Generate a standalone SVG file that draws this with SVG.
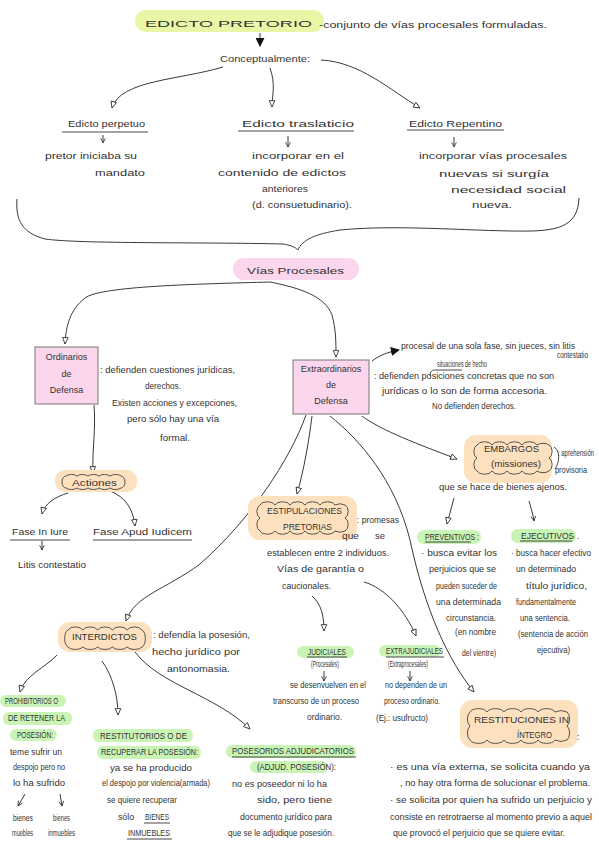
<svg xmlns="http://www.w3.org/2000/svg" width="599" height="848" viewBox="0 0 599 848">
<defs>
<style>
.t{font-family:"Liberation Sans",Arial,sans-serif;fill:#333;font-size:9px}
.m{text-anchor:middle}
.c{fill:none;stroke:#3a3a3a;stroke-width:1}
.ul{fill:none;stroke:#333;stroke-width:0.9}
.cl{fill:none;stroke:#444;stroke-width:0.9}
.g{fill:#c9f4b6}
.o{fill:#fde0bd}
.p{fill:#fbd6ec}
</style>
<marker id="open" viewBox="0 0 10 10" refX="9" refY="5" markerWidth="8" markerHeight="8" orient="auto" markerUnits="userSpaceOnUse"><path d="M1,1.5 L9,5 L1,8.5 Z" fill="#fff" stroke="#333" stroke-width="1.1"/></marker>
<marker id="solid" viewBox="0 0 10 10" refX="9" refY="5" markerWidth="9" markerHeight="9" orient="auto" markerUnits="userSpaceOnUse"><path d="M0,0 L10,5 L0,10 Z" fill="#111"/></marker>
<marker id="vee" viewBox="0 0 10 10" refX="9" refY="5" markerWidth="6" markerHeight="6" orient="auto" markerUnits="userSpaceOnUse"><path d="M1,1 L9,5 L1,9" fill="none" stroke="#333" stroke-width="1.4"/></marker>
</defs>
<rect width="599" height="848" fill="#fff"/>

<g id="connectors">
<path class="c" d="M260,33 L260,46" marker-end="url(#solid)"/>
<path class="c" d="M223,67 C180,80 120,80 112,108" marker-end="url(#open)"/>
<path class="c" d="M270,68 C276,85 272,95 272,107" marker-end="url(#open)"/>
<path class="c" d="M321,60 C360,62 390,90 420,108" marker-end="url(#open)"/>
<path class="c" d="M103,135 L103,143" marker-end="url(#vee)"/>
<path class="c" d="M288,136 L288,147" marker-end="url(#vee)"/>
<path class="c" d="M454,137 L454,147" marker-end="url(#vee)"/>
<path class="c" d="M17,199 C16,215 18,232 45,239 C80,244 200,242 283,244 C290,245 295,247 298,250 C302,240 315,234 340,230 C400,224 480,232 532,231 C560,230 578,225 579,198"/>
<path class="c" d="M270,282 C200,284 100,286 85,298 C70,310 66,325 65,344" marker-end="url(#open)"/>
<path class="c" d="M270,282 C300,288 325,296 332,315 C336,330 336,342 336,357" marker-end="url(#open)"/>
<path class="c" d="M372,361 C380,355 388,352 399,350" marker-end="url(#solid)"/>
<path class="c" d="M94,405 C96,430 92,450 93,473" marker-end="url(#open)"/>
<path class="c" d="M68,493 C55,497 45,503 42,514" marker-end="url(#open)"/>
<path class="c" d="M110,491 C125,497 133,508 135,526" marker-end="url(#open)"/>
<path class="c" d="M42,541 L42,550" marker-end="url(#vee)"/>
<path class="c" d="M306,415 C290,460 250,520 200,564 C165,590 135,595 126,621" marker-end="url(#open)"/>
<path class="c" d="M312,416 C309,440 304,470 297,494" marker-end="url(#open)"/>
<path class="c" d="M330,416 C360,440 395,480 410,540 C425,610 448,660 474,692" marker-end="url(#open)"/>
<path class="c" d="M362,416 C380,430 420,445 457,459" marker-end="url(#open)"/>
<path class="c" d="M454,498 C452,507 449,515 447,524" marker-end="url(#open)"/>
<path class="c" d="M529,501 C531,508 533,514 534,521" marker-end="url(#vee)"/>
<path class="c" d="M312,596 C321,604 324,615 324,631" marker-end="url(#open)"/>
<path class="c" d="M364,582 C385,588 405,610 416,636" marker-end="url(#open)"/>
<path class="c" d="M324,671 L324,681" marker-end="url(#vee)"/>
<path class="c" d="M410,671 L410,681" marker-end="url(#vee)"/>
<path class="c" d="M57,655 C45,668 25,675 20,692" marker-end="url(#open)"/>
<path class="c" d="M102,661 C112,675 118,695 118,715" marker-end="url(#open)"/>
<path class="c" d="M135,652 C160,685 215,695 250,729" marker-end="url(#open)"/>
<path class="c" d="M25,794 L18,806" marker-end="url(#vee)"/>
<path class="c" d="M60,794 L62,806" marker-end="url(#vee)"/>
</g>

<g id="edicto-pretorio">
<rect x="135" y="10" width="189" height="22" rx="11" fill="#e9f6a6"/>
<text class="t" x="145" y="27" font-size="16" textLength="167" lengthAdjust="spacingAndGlyphs">EDICTO PRETORIO</text>
<text class="t" x="319" y="28" font-size="10" textLength="228" lengthAdjust="spacingAndGlyphs">-conjunto de vías procesales formuladas.</text>
</g>

<g id="conceptualmente">
<text class="t" x="220" y="62" font-size="11" textLength="90" lengthAdjust="spacingAndGlyphs">Conceptualmente:</text>
</g>

<g id="edicto-perpetuo">
<text class="t" x="68" y="127" font-size="10" textLength="77" lengthAdjust="spacingAndGlyphs">Edicto perpetuo</text>
<path class="ul" d="M62,132 L148,132"/>
<text class="t" x="45" y="159" font-size="10" textLength="92" lengthAdjust="spacingAndGlyphs">pretor iniciaba su</text>
<text class="t" x="95" y="176" font-size="10" textLength="50" lengthAdjust="spacingAndGlyphs">mandato</text>
</g>

<g id="edicto-traslaticio">
<text class="t" x="242" y="127" font-size="10" textLength="112" lengthAdjust="spacingAndGlyphs">Edicto traslaticio</text>
<path class="ul" d="M238,131 L354,131"/>
<text class="t" x="252" y="159" font-size="10" textLength="92" lengthAdjust="spacingAndGlyphs">incorporar en el</text>
<text class="t" x="218" y="176" font-size="10" textLength="128" lengthAdjust="spacingAndGlyphs">contenido de edictos</text>
<text class="t" x="262" y="192" font-size="9" textLength="46" lengthAdjust="spacingAndGlyphs">anteriores</text>
<text class="t" x="252" y="208" font-size="9.5" textLength="100" lengthAdjust="spacingAndGlyphs">(d. consuetudinario).</text>
</g>

<g id="edicto-repentino">
<text class="t" x="409" y="127" font-size="10" textLength="93" lengthAdjust="spacingAndGlyphs">Edicto Repentino</text>
<path class="ul" d="M407,130 L504,130"/>
<text class="t" x="419" y="159" font-size="10" textLength="148" lengthAdjust="spacingAndGlyphs">incorporar vías procesales</text>
<text class="t" x="439" y="177" font-size="10" textLength="110" lengthAdjust="spacingAndGlyphs">nuevas si surgía</text>
<text class="t" x="451" y="193" font-size="10" textLength="115" lengthAdjust="spacingAndGlyphs">necesidad social</text>
<text class="t" x="472" y="208" font-size="10" textLength="40" lengthAdjust="spacingAndGlyphs">nueva.</text>
</g>

<g id="vias-procesales">
<rect x="233" y="258" width="126" height="22" rx="11" class="p"/>
<text class="t" x="247" y="274" font-size="11" textLength="97" lengthAdjust="spacingAndGlyphs">Vías Procesales</text>
</g>

<g id="ordinarios">
<rect x="35" y="347" width="63" height="57" class="p" stroke="#777" stroke-width="1"/>
<text class="t m" x="66.5" y="360" font-size="8">Ordinarios</text>
<text class="t m" x="66.5" y="377" font-size="8">de</text>
<text class="t m" x="66.5" y="393" font-size="8">Defensa</text>
<text class="t" x="100" y="373" font-size="8.5" textLength="135" lengthAdjust="spacingAndGlyphs">: defienden cuestiones jurídicas,</text>
<text class="t" x="145" y="389" font-size="8.5" textLength="36" lengthAdjust="spacingAndGlyphs">derechos.</text>
<text class="t" x="112" y="406" font-size="8.5" textLength="125" lengthAdjust="spacingAndGlyphs">Existen acciones y excepciones,</text>
<text class="t" x="127" y="422" font-size="8.5" textLength="92" lengthAdjust="spacingAndGlyphs">pero sólo hay una vía</text>
<text class="t" x="160" y="441" font-size="8.5" textLength="30" lengthAdjust="spacingAndGlyphs">formal.</text>
</g>

<g id="extraordinarios">
<rect x="293" y="360" width="76" height="54" class="p" stroke="#777" stroke-width="1"/>
<text class="t m" x="331" y="372" font-size="8">Extraordinarios</text>
<text class="t m" x="331" y="388" font-size="8">de</text>
<text class="t m" x="331" y="404" font-size="8">Defensa</text>
<text class="t" x="401" y="349" font-size="6.5" textLength="174" lengthAdjust="spacingAndGlyphs">procesal de una sola fase, sin jueces, sin litis</text>
<text class="t" x="557" y="358" font-size="5.8" textLength="31" lengthAdjust="spacingAndGlyphs">contestatio</text>
<text class="t" x="437" y="367" font-size="5.3" textLength="50" lengthAdjust="spacingAndGlyphs">situaciones de hecho</text>
<path class="ul" d="M430,376 C430,371 432,370 436,370 L462,370"/>
<text class="t" x="374" y="379" font-size="8.5" textLength="180" lengthAdjust="spacingAndGlyphs">: defienden posiciones concretas que no son</text>
<text class="t" x="382" y="394" font-size="8.5" textLength="165" lengthAdjust="spacingAndGlyphs">jurídicas o lo son de forma accesoria.</text>
<text class="t" x="432" y="409" font-size="8" textLength="84" lengthAdjust="spacingAndGlyphs">No defienden derechos.</text>
</g>

<g id="actiones">
<rect x="55" y="470" width="82" height="22" rx="10" class="o"/>
<path class="cl" d="M66,476 a7,4 0 0 1 11,0 a7,4 0 0 1 11,0 a7,4 0 0 1 11,0 a7,4 0 0 1 11,0 a7,4 0 0 1 11,0 a4,6 0 0 1 0,12 a7,4 0 0 1 -11,0 a7,4 0 0 1 -11,0 a7,4 0 0 1 -11,0 a7,4 0 0 1 -11,0 a7,4 0 0 1 -11,0 a4,6 0 0 1 0,-12 z"/>
<text class="t" x="72" y="486" font-size="9" textLength="45" lengthAdjust="spacingAndGlyphs">Actiones</text>
</g>

<g id="fase-in-iure">
<text class="t" x="12" y="535" font-size="10" textLength="56" lengthAdjust="spacingAndGlyphs">Fase In Iure</text>
<path class="ul" d="M10,540 L70,540"/>
<text class="t" x="18" y="568" font-size="8.5" textLength="68" lengthAdjust="spacingAndGlyphs">Litis contestatio</text>
</g>

<g id="fase-apud-iudicem">
<text class="t" x="93" y="535" font-size="10" textLength="99" lengthAdjust="spacingAndGlyphs">Fase Apud Iudicem</text>
<path class="ul" d="M93,540 L192,540"/>
</g>

<g id="embargos">
<rect x="464" y="435" width="88" height="48" rx="12" class="o"/>
<path class="cl" d="M477,445 a8,5 0 0 1 15,0 a8,5 0 0 1 15,0 a8,5 0 0 1 15,0 a8,5 0 0 1 15,0 a8,5 0 0 1 12,0 a5,7 0 0 1 0,13 a5,7 0 0 1 0,13 a8,5 0 0 1 -12,0 a8,5 0 0 1 -15,0 a8,5 0 0 1 -15,0 a8,5 0 0 1 -15,0 a8,5 0 0 1 -15,0 a5,7 0 0 1 0,-13 a5,7 0 0 1 0,-13 z"/>
<text class="t" x="484" y="452" font-size="8" textLength="55" lengthAdjust="spacingAndGlyphs">EMBARGOS</text>
<text class="t" x="491" y="467" font-size="8" textLength="50" lengthAdjust="spacingAndGlyphs">(missiones)</text>
<path class="ul" d="M554,447 C560,450 560,462 555,469"/>
<text class="t" x="558" y="456" font-size="4.8" textLength="36" lengthAdjust="spacingAndGlyphs">: aprehensión</text>
<text class="t" x="555" y="473" font-size="6.5" textLength="32" lengthAdjust="spacingAndGlyphs">provisoria</text>
<text class="t" x="439" y="490" font-size="9" textLength="128" lengthAdjust="spacingAndGlyphs">que se hace de bienes ajenos.</text>
</g>

<g id="preventivos">
<rect x="417" y="530" width="64" height="14" rx="7" class="g"/>
<text class="t" x="425" y="540" font-size="6" textLength="54" lengthAdjust="spacingAndGlyphs">PREVENTIVOS :</text>
<path class="ul" d="M425,542 L471,542"/>
<text class="t" x="421" y="556" font-size="8.3" textLength="76" lengthAdjust="spacingAndGlyphs">· busca evitar los</text>
<text class="t" x="429" y="572" font-size="8" textLength="67" lengthAdjust="spacingAndGlyphs">perjuicios que se</text>
<text class="t" x="436" y="589" font-size="7.5" textLength="61" lengthAdjust="spacingAndGlyphs">pueden suceder de</text>
<text class="t" x="436" y="605" font-size="8" textLength="65" lengthAdjust="spacingAndGlyphs">una determinada</text>
<text class="t" x="446" y="621" font-size="7.5" textLength="50" lengthAdjust="spacingAndGlyphs">circunstancia.</text>
<text class="t" x="455" y="635" font-size="7.5" textLength="41" lengthAdjust="spacingAndGlyphs">(en nombre</text>
<text class="t" x="462" y="656" font-size="6.3" textLength="34" lengthAdjust="spacingAndGlyphs">del vientre)</text>
</g>

<g id="ejecutivos">
<rect x="511" y="529" width="65" height="14" rx="7" class="g"/>
<text class="t" x="521" y="539" font-size="6.5" textLength="58" lengthAdjust="spacingAndGlyphs">EJECUTIVOS .</text>
<path class="ul" d="M520,541 L572,541"/>
<text class="t" x="511" y="556" font-size="6" textLength="80" lengthAdjust="spacingAndGlyphs">· busca hacer efectivo</text>
<text class="t" x="516" y="572" font-size="8" textLength="60" lengthAdjust="spacingAndGlyphs">un determinado</text>
<text class="t" x="526" y="589" font-size="7.8" textLength="61" lengthAdjust="spacingAndGlyphs">título jurídico,</text>
<text class="t" x="516" y="605" font-size="7.8" textLength="60" lengthAdjust="spacingAndGlyphs">fundamentalmente</text>
<text class="t" x="520" y="621" font-size="7.5" textLength="50" lengthAdjust="spacingAndGlyphs">una sentencia.</text>
<text class="t" x="518" y="637" font-size="6.5" textLength="70" lengthAdjust="spacingAndGlyphs">(sentencia de acción</text>
<text class="t" x="537" y="653" font-size="7" textLength="33" lengthAdjust="spacingAndGlyphs">ejecutiva)</text>
</g>

<g id="estipulaciones">
<rect x="248" y="496" width="109" height="44" rx="12" class="o"/>
<path class="cl" d="M260,505 a8,5 0 0 1 15,0 a8,5 0 0 1 15,0 a8,5 0 0 1 15,0 a8,5 0 0 1 15,0 a8,5 0 0 1 15,0 a8,5 0 0 1 10,0 a5,7 0 0 1 0,13 a5,7 0 0 1 0,13 a8,5 0 0 1 -10,0 a8,5 0 0 1 -15,0 a8,5 0 0 1 -15,0 a8,5 0 0 1 -15,0 a8,5 0 0 1 -15,0 a8,5 0 0 1 -15,0 a5,7 0 0 1 0,-13 a5,7 0 0 1 0,-13 z"/>
<text class="t" x="267" y="514" font-size="7.8" textLength="75" lengthAdjust="spacingAndGlyphs">ESTIPULACIONES</text>
<text class="t" x="283" y="530" font-size="7.8" textLength="49" lengthAdjust="spacingAndGlyphs">PRETORIAS</text>
<text class="t" x="357" y="523" font-size="9" textLength="42" lengthAdjust="spacingAndGlyphs">: promesas</text>
<text class="t" x="342" y="539" font-size="9" textLength="17" lengthAdjust="spacingAndGlyphs">que</text>
<text class="t" x="375" y="539" font-size="9" textLength="10" lengthAdjust="spacingAndGlyphs">se</text>
<text class="t" x="267" y="556" font-size="8.5" textLength="122" lengthAdjust="spacingAndGlyphs">establecen entre 2 individuos.</text>
<text class="t" x="277" y="572" font-size="9" textLength="87" lengthAdjust="spacingAndGlyphs">Vías de garantía o</text>
<text class="t" x="282" y="589" font-size="8.5" textLength="49" lengthAdjust="spacingAndGlyphs">caucionales.</text>
</g>

<g id="judiciales">
<rect x="297" y="646" width="57" height="12" rx="6" class="g"/>
<text class="t" x="308" y="655" font-size="5.5" textLength="38" lengthAdjust="spacingAndGlyphs">JUDICIALES</text>
<path class="ul" d="M307,657 L347,657"/>
<text class="t" x="311" y="667" font-size="5" textLength="28" lengthAdjust="spacingAndGlyphs">(Procesales)</text>
<text class="t" x="290" y="688" font-size="7.5" textLength="76" lengthAdjust="spacingAndGlyphs">se desenvuelven en el</text>
<text class="t" x="273" y="704" font-size="7.5" textLength="86" lengthAdjust="spacingAndGlyphs">transcurso de un proceso</text>
<text class="t" x="307" y="720" font-size="7.5" textLength="35" lengthAdjust="spacingAndGlyphs">ordinario.</text>
</g>

<g id="extrajudiciales">
<rect x="379" y="645" width="62" height="12" rx="6" class="g"/>
<text class="t" x="386" y="654" font-size="5.5" textLength="57" lengthAdjust="spacingAndGlyphs">EXTRAJUDICIALES</text>
<path class="ul" d="M386,657 L444,657"/>
<text class="t" x="388" y="667" font-size="5" textLength="40" lengthAdjust="spacingAndGlyphs">(Extraprocesales)</text>
<text class="t" x="385" y="688" font-size="7.5" textLength="62" lengthAdjust="spacingAndGlyphs">no dependen de un</text>
<text class="t" x="384" y="704" font-size="6.5" textLength="56" lengthAdjust="spacingAndGlyphs">proceso ordinario.</text>
<text class="t" x="376" y="721" font-size="6.5" textLength="52" lengthAdjust="spacingAndGlyphs">(Ej.: usufructo)</text>
</g>

<g id="interdictos">
<rect x="58" y="622" width="94" height="30" rx="12" class="o"/>
<path class="cl" d="M68,630 a8,5 0 0 1 14.8,0 a8,5 0 0 1 14.8,0 a8,5 0 0 1 14.8,0 a8,5 0 0 1 14.8,0 a8,5 0 0 1 14.8,0 a5,9 0 0 1 0,17 a8,4 0 0 1 -14.8,0 a8,4 0 0 1 -14.8,0 a8,4 0 0 1 -14.8,0 a8,4 0 0 1 -14.8,0 a8,4 0 0 1 -14.8,0 a5,9 0 0 1 0,-17 z"/>
<text class="t" x="72" y="640" font-size="8.5" textLength="65" lengthAdjust="spacingAndGlyphs">INTERDICTOS</text>
<text class="t" x="153" y="638" font-size="9" textLength="97" lengthAdjust="spacingAndGlyphs">: defendía la posesión,</text>
<text class="t" x="152" y="655" font-size="9.5" textLength="88" lengthAdjust="spacingAndGlyphs">hecho jurídico por</text>
<text class="t" x="167" y="672" font-size="9.5" textLength="63" lengthAdjust="spacingAndGlyphs">antonomasia.</text>
</g>

<g id="prohibitorios">
<rect x="0" y="695" width="66" height="12" rx="6" class="g"/>
<text class="t" x="5" y="704" font-size="5" textLength="53" lengthAdjust="spacingAndGlyphs">PROHIBITORIOS O</text>
<rect x="3" y="712" width="69" height="13" rx="6" class="g"/>
<text class="t" x="8" y="721" font-size="6.2" textLength="57" lengthAdjust="spacingAndGlyphs">DE RETENER LA</text>
<rect x="10" y="729" width="47" height="12" rx="6" class="g"/>
<text class="t" x="17" y="738" font-size="5.8" textLength="36" lengthAdjust="spacingAndGlyphs">POSESIÓN:</text>
<text class="t" x="10" y="755" font-size="7.8" textLength="52" lengthAdjust="spacingAndGlyphs">teme sufrir un</text>
<text class="t" x="13" y="770" font-size="7.3" textLength="52" lengthAdjust="spacingAndGlyphs">despojo pero no</text>
<text class="t" x="13" y="786" font-size="7.8" textLength="52" lengthAdjust="spacingAndGlyphs">lo ha sufrido</text>
<text class="t" x="13" y="821" font-size="6.5" textLength="20" lengthAdjust="spacingAndGlyphs">bienes</text>
<text class="t" x="53" y="821" font-size="6" textLength="17" lengthAdjust="spacingAndGlyphs">bienes</text>
<text class="t" x="12" y="836" font-size="6" textLength="21" lengthAdjust="spacingAndGlyphs">muebles</text>
<text class="t" x="48" y="836" font-size="6.2" textLength="27" lengthAdjust="spacingAndGlyphs">inmuebles</text>
</g>

<g id="restitutorios">
<rect x="93" y="729" width="100" height="13" rx="6" class="g"/>
<text class="t" x="100" y="739" font-size="6.5" textLength="87" lengthAdjust="spacingAndGlyphs">RESTITUTORIOS O DE</text>
<rect x="97" y="746" width="104" height="13" rx="6" class="g"/>
<text class="t" x="101" y="755" font-size="6.2" textLength="97" lengthAdjust="spacingAndGlyphs">RECUPERAR LA POSESIÓN:</text>
<text class="t" x="110" y="771" font-size="8" textLength="82" lengthAdjust="spacingAndGlyphs">ya se ha producido</text>
<text class="t" x="102" y="786" font-size="7" textLength="108" lengthAdjust="spacingAndGlyphs">el despojo por violencia(armada)</text>
<text class="t" x="107" y="803" font-size="7.6" textLength="70" lengthAdjust="spacingAndGlyphs">se quiere recuperar</text>
<text class="t" x="118" y="820" font-size="7.5" textLength="16" lengthAdjust="spacingAndGlyphs">sólo</text>
<text class="t" x="145" y="820" font-size="5.8" textLength="24" lengthAdjust="spacingAndGlyphs">BIENES</text>
<path class="ul" d="M144,823 L170,823"/>
<text class="t" x="128" y="836" font-size="6.3" textLength="42" lengthAdjust="spacingAndGlyphs">INMUEBLES</text>
<path class="ul" d="M127,839 L172,839"/>
</g>

<g id="posesorios">
<rect x="226" y="745" width="130" height="13" rx="6" class="g"/>
<text class="t" x="232" y="754" font-size="6.5" textLength="122" lengthAdjust="spacingAndGlyphs">POSESORIOS ADJUDICATORIOS</text>
<path class="ul" d="M232,757 L356,757"/>
<rect x="250" y="761" width="78" height="12" rx="6" class="g"/>
<text class="t" x="257" y="770" font-size="6.5" textLength="79" lengthAdjust="spacingAndGlyphs">(ADJUD. POSESIÓN):</text>
<text class="t" x="232" y="787" font-size="8" textLength="95" lengthAdjust="spacingAndGlyphs">no es poseedor ni lo ha</text>
<text class="t" x="257" y="803" font-size="8" textLength="75" lengthAdjust="spacingAndGlyphs">sido, pero tiene</text>
<text class="t" x="240" y="820" font-size="8" textLength="92" lengthAdjust="spacingAndGlyphs">documento jurídico para</text>
<text class="t" x="228" y="836" font-size="7.6" textLength="106" lengthAdjust="spacingAndGlyphs">que se le adjudique posesión.</text>
</g>

<g id="restituciones">
<rect x="460" y="700" width="118" height="48" rx="12" class="o"/>
<path class="cl" d="M470,712 a9,5 0 0 1 17,0 a9,5 0 0 1 17,0 a9,5 0 0 1 17,0 a9,5 0 0 1 17,0 a9,5 0 0 1 17,0 a9,5 0 0 1 12,0 a5,8 0 0 1 0,14 a5,8 0 0 1 0,14 a9,5 0 0 1 -12,0 a9,5 0 0 1 -17,0 a9,5 0 0 1 -17,0 a9,5 0 0 1 -17,0 a9,5 0 0 1 -17,0 a9,5 0 0 1 -17,0 a5,8 0 0 1 0,-14 a5,8 0 0 1 0,-14 z"/>
<text class="t" x="474" y="723" font-size="7.5" textLength="95" lengthAdjust="spacingAndGlyphs">RESTITUCIONES IN</text>
<text class="t" x="517" y="738" font-size="7" textLength="35" lengthAdjust="spacingAndGlyphs">ÍNTEGRO</text>
<text class="t" x="577" y="740" font-size="9">:</text>
<text class="t" x="390" y="770" font-size="8.5" textLength="200" lengthAdjust="spacingAndGlyphs">· es una vía externa, se solicita cuando ya</text>
<text class="t" x="400" y="786" font-size="8.3" textLength="190" lengthAdjust="spacingAndGlyphs">, no hay otra forma de solucionar el problema.</text>
<text class="t" x="390" y="803" font-size="8.2" textLength="202" lengthAdjust="spacingAndGlyphs">· se solicita por quien ha sufrido un perjuicio y</text>
<text class="t" x="390" y="820" font-size="8.1" textLength="202" lengthAdjust="spacingAndGlyphs">consiste en retrotraerse al momento previo a aquel</text>
<text class="t" x="393" y="836" font-size="7.8" textLength="172" lengthAdjust="spacingAndGlyphs">que provocó el perjuicio que se quiere evitar.</text>
</g>
</svg>
